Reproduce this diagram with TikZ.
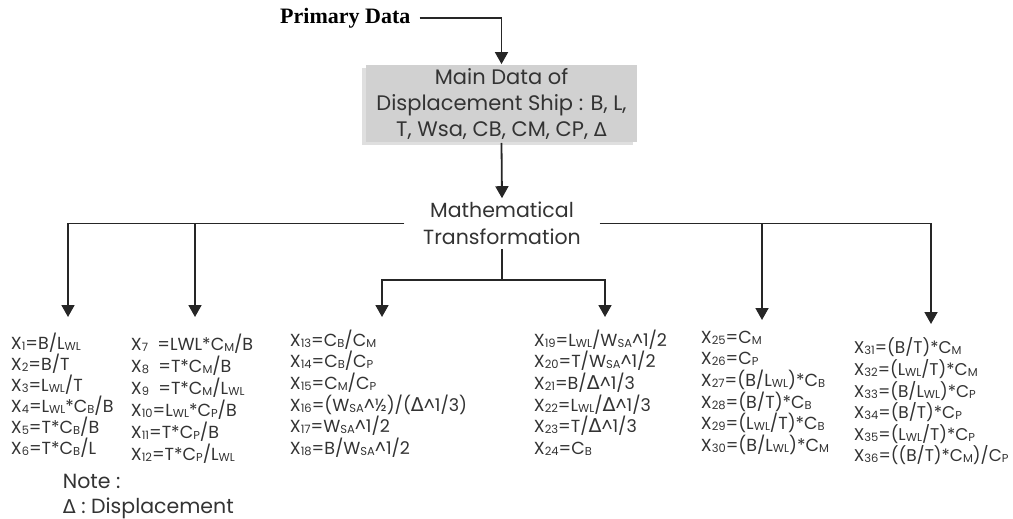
\documentclass[tikz,border=0pt]{standalone}
\usepackage{fontspec}
\setmainfont{Poppins}
\newfontfamily\serifbf{Liberation Serif}
\newfontfamily\symf{DejaVu Sans}
\usetikzlibrary{positioning,arrows.meta,shadows}
\newcommand\lo[1]{\raisebox{-1pt}{\fontsize{11.5}{12}\selectfont #1}}
\newcommand\dlt{{\symf\fontsize{19}{19}\selectfont Δ}}
\newcommand\crt{\textasciicircum}

\begin{document}
\begin{tikzpicture}[x=1pt, y=-1pt, line width=1.8pt, text=black!80,
  flow/.style={draw=black!85, -{Triangle[width=13pt,length=12pt]}},
  wire/.style={draw=black!85},
  formulas/.style={anchor=north west, inner sep=0pt, align=left, font=\fontsize{17.5}{21.6}\selectfont},
  databox/.style={fill=black!18, minimum width=271pt, minimum height=77pt, align=center, inner sep=0pt, font=\fontsize{21}{26}\selectfont, drop shadow={shadow xshift=-4pt, shadow yshift=-3pt, opacity=0.25}},
  heading/.style={font=\serifbf\bfseries\fontsize{22}{22}\selectfont, text=black}]
\useasboundingbox (0,0) rectangle (1013,519);
\node[heading, anchor=west] (primary) at (276,18) {Primary Data};
\node[databox] (main) at (501.5,103.5) {Main Data of\\Displacement Ship : B, L,\\T, Wsa, CB, CM, CP, \dlt};
\node[align=center, font=\fontsize{20.5}{27}\selectfont, inner xsep=18pt, inner ysep=3pt] (math) at (502,223.5) {Mathematical\\Transformation};
% branch ends
\coordinate (c1) at (68,317);
\coordinate (c2) at (195,317);
\coordinate (c3) at (382,317);
\coordinate (c4) at (605,317);
\coordinate (c5) at (762,320);
\coordinate (c6) at (931,324);
\coordinate (j) at (502,280);
\draw[flow] ([xshift=5pt]primary.east) -| (main.north);
\draw[flow] (main.south) -- (math.north);
\draw[flow] (math.west) -| (c1);
\draw[flow] (math.east) -| (c6);
\draw[flow] (c2 |- math.west) -- (c2);
\draw[flow] (c5 |- math.east) -- (c5);
\draw[wire] (math.south) -- (j);
\draw[flow] (j) -| (c3);
\draw[flow] (j) -| (c4);
% ratio columns
\node[formulas, font=\fontsize{17.5}{21}\selectfont] (g1) at (10,332) {X\lo{1}=B/L\lo{WL}\\X\lo{2}=B/T\\X\lo{3}=L\lo{WL}/T\\X\lo{4}=L\lo{WL}*C\lo{B}/B\\X\lo{5}=T*C\lo{B}/B\\X\lo{6}=T*C\lo{B}/L};
\node[formulas, font=\fontsize{17.5}{22}\selectfont] (g2) at (130,333) {X\lo{7}\ \ =LWL*C\lo{M}/B\\X\lo{8}\ \ =T*C\lo{M}/B\\X\lo{9}\ \ =T*C\lo{M}/L\lo{WL}\\X\lo{10}=L\lo{WL}*C\lo{P}/B\\X\lo{11}=T*C\lo{P}/B\\X\lo{12}=T*C\lo{P}/L\lo{WL}};
\node[formulas] (g3) at (289,329) {X\lo{13}=C\lo{B}/C\lo{M}\\X\lo{14}=C\lo{B}/C\lo{P}\\X\lo{15}=C\lo{M}/C\lo{P}\\X\lo{16}=(W\lo{SA}\crt½)/(\dlt\crt1/3)\\X\lo{17}=W\lo{SA}\crt1/2\\X\lo{18}=B/W\lo{SA}\crt1/2};
\node[formulas] (g4) at (533,329) {X\lo{19}=L\lo{WL}/W\lo{SA}\crt1/2\\X\lo{20}=T/W\lo{SA}\crt1/2\\X\lo{21}=B/\dlt\crt1/3\\X\lo{22}=L\lo{WL}/\dlt\crt1/3\\X\lo{23}=T/\dlt\crt1/3\\X\lo{24}=C\lo{B}};
\node[formulas] (g5) at (700,330) {X\lo{25}=C\lo{M}\\X\lo{26}=C\lo{P}\\X\lo{27}=(B/L\lo{WL})*C\lo{B}\\X\lo{28}=(B/T)*C\lo{B}\\X\lo{29}=(L\lo{WL}/T)*C\lo{B}\\X\lo{30}=(B/L\lo{WL})*C\lo{M}};
\node[formulas, font=\fontsize{17}{21.6}\selectfont] (g6) at (853,337) {X\lo{31}=(B/T)*C\lo{M}\\X\lo{32}=(L\lo{WL}/T)*C\lo{M}\\X\lo{33}=(B/L\lo{WL})*C\lo{P}\\X\lo{34}=(B/T)*C\lo{P}\\X\lo{35}=(L\lo{WL}/T)*C\lo{P}\\X\lo{36}=((B/T)*C\lo{M})/C\lo{P}};
\node[formulas, font=\fontsize{20.5}{25}\selectfont] (note) at (62,473) {Note :\\\dlt{} : Displacement};
\end{tikzpicture}
\end{document}
